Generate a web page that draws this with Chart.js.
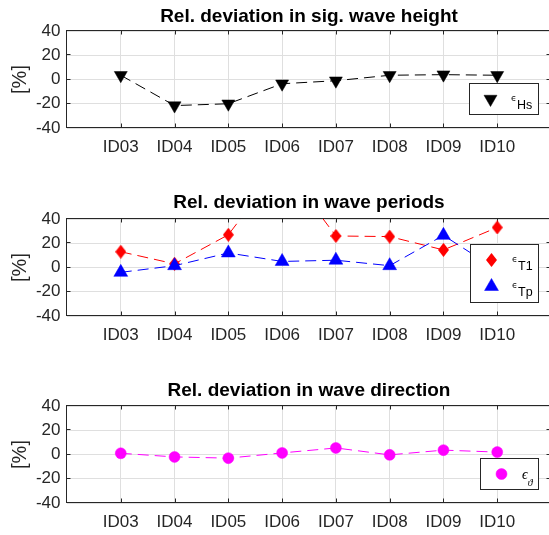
<!DOCTYPE html>
<html>
<head>
<meta charset="utf-8">
<script src="https://cdn.jsdelivr.net/npm/chart.js@4.4.0/dist/chart.umd.min.js"></script>
<style>
  html, body { margin: 0; padding: 0; background: #fff; }
  body { width: 549px; height: 535px; overflow: hidden; position: relative; }
  canvas { position: absolute; left: 0; }
</style>
</head>
<body>
<canvas id="hs" width="560" height="175" style="top:0px"></canvas>
<canvas id="per" width="560" height="190" style="top:175px"></canvas>
<canvas id="dir" width="560" height="170" style="top:365px"></canvas>
<script>
// data
const categories = ['ID03', 'ID04', 'ID05', 'ID06', 'ID07', 'ID08', 'ID09', 'ID10'];
const hsDev = [3.5, -21.5, -20, -3.5, -1, 3.5, 4, 3.5];
const t1Dev = [13, 3, 27, 85, 26, 25.5, 14.5, 33];
const tpDev = [-4, 1.5, 12, 5, 6, 1.5, 26.5, -2];
const dirDev = [1, -2, -3, 1.3, 5.4, -0.3, 3.6, 2];
const yTicks = [-40, -20, 0, 20, 40];

const AXIS = '#262626';
const GRID = '#dfdfdf';
const SANS = '"Liberation Sans", Arial, Helvetica, sans-serif';
const DASH = [11, 6];

function pts(values) {
	return values.map((v, i) => ({ x: i + 1, y: v }));
}

// matlab style diamond marker (taller than wide)
function diamond(w, h, color) {
	const c = document.createElement('canvas');
	c.width = w;
	c.height = h;
	const g = c.getContext('2d');
	g.fillStyle = color;
	g.beginPath();
	g.moveTo(w / 2, 0);
	g.lineTo(w, h / 2);
	g.lineTo(w / 2, h);
	g.lineTo(0, h / 2);
	g.closePath();
	g.fill();
	return c;
}

// box + inward ticks, drawn like matlab axes
const matlabBox = {
	id: 'matlabBox',
	beforeDatasetsDraw(chart) {
		const { ctx, chartArea: a, scales } = chart;
		const L = a.left - 0.5, R = a.right - 0.5, T = a.top - 0.5, B = a.bottom - 0.5;
		ctx.save();
		ctx.strokeStyle = AXIS;
		ctx.lineWidth = 1;
		ctx.strokeRect(L, T, R - L, B - T);
		ctx.beginPath();
		for (const t of scales.x.ticks) {
			const px = Math.round(scales.x.getPixelForValue(t.value)) + 0.5;
			ctx.moveTo(px, B); ctx.lineTo(px, B - 4);
			ctx.moveTo(px, T); ctx.lineTo(px, T + 4);
		}
		for (const t of scales.y.ticks) {
			const py = Math.round(scales.y.getPixelForValue(t.value)) - 0.5;
			ctx.moveTo(L, py); ctx.lineTo(L + 4, py);
			ctx.moveTo(R, py); ctx.lineTo(R - 4, py);
		}
		ctx.stroke();
		ctx.restore();
	}
};

const legendBox = {
	id: 'legendBox',
	afterDatasetsDraw(chart, args, o) {
		const { ctx, chartArea: a } = chart;
		const sets = chart.data.datasets;
		ctx.save();
		let textW = 0;
		for (const ds of sets) {
			ctx.font = o.mainFont;
			const w1 = ctx.measureText(o.mainText).width;
			ctx.font = o.subFont;
			const w2 = ctx.measureText(ds.legendSub).width;
			textW = Math.max(textW, w1 + o.gap + w2);
		}
		const w = Math.round(41.5 + textW + 6);
		const h = Math.round(4.5 + 26.5 * sets.length);
		const x0 = Math.round(a.right - 13.5 - w) + 0.5;
		const y0 = Math.round(a.bottom - 14.5 - h) + 0.5;
		ctx.fillStyle = '#fff';
		ctx.fillRect(x0, y0, w, h);
		ctx.strokeStyle = AXIS;
		ctx.lineWidth = 1;
		ctx.strokeRect(x0, y0, w, h);
		sets.forEach((ds, i) => {
			const my = y0 + 15.5 + 26.5 * i;
			const mx = x0 + 21;
			ctx.fillStyle = ds.pointBackgroundColor;
			ctx.strokeStyle = ds.pointBorderColor;
			ctx.lineWidth = ds.pointBorderWidth;
			Chart.helpers.drawPoint(ctx, {
				pointStyle: ds.pointStyle,
				radius: ds.pointRadius,
				rotation: ds.pointRotation || 0,
				borderWidth: ds.pointBorderWidth
			}, mx, my);
			const tx = x0 + 41.5;
			ctx.fillStyle = '#000';
			ctx.textAlign = 'left';
			ctx.textBaseline = 'alphabetic';
			ctx.font = o.mainFont;
			ctx.fillText(o.mainText, tx, my + o.mainDy);
			const w1 = ctx.measureText(o.mainText).width;
			ctx.font = o.subFont;
			ctx.fillText(ds.legendSub, tx + w1 + o.gap, my + o.subDy);
		});
		ctx.restore();
	}
};

function makeChart(id, title, titlePad, datasets, legendOpts) {
	return new Chart(document.getElementById(id), {
		type: 'line',
		data: { datasets },
		plugins: [matlabBox, legendBox],
		options: {
			responsive: false,
			animation: false,
			events: [],
			layout: { padding: { left: 0, right: 9, top: 0, bottom: 0 } },
			plugins: {
				legend: { display: false },
				tooltip: { enabled: false },
				title: {
					display: true,
					text: title,
					fullSize: false,
					color: '#000',
					font: { family: SANS, size: 19, weight: 'bold' },
					padding: { top: titlePad.top, bottom: titlePad.bottom }
				},
				legendBox: legendOpts
			},
			scales: {
				x: {
					type: 'linear',
					min: 0,
					max: categories.length + 1,
					afterBuildTicks: (s) => { s.ticks = categories.map((c, i) => ({ value: i + 1 })); },
					afterFit: (s) => { s.height = titlePad.xh; },
					grid: { color: GRID, drawTicks: false },
					border: { display: false },
					ticks: {
						autoSkip: false,
						maxRotation: 0,
						padding: 9,
						color: AXIS,
						font: { family: SANS, size: 17 },
						callback: (v) => categories[v - 1] || ''
					}
				},
				y: {
					min: -40,
					max: 40,
					afterBuildTicks: (s) => { s.ticks = yTicks.map(v => ({ value: v })); },
					afterFit: (s) => { s.width = 67; },
					grid: { color: GRID, drawTicks: false },
					border: { display: false },
					title: {
						display: true,
						text: '[%]',
						color: AXIS,
						font: { family: SANS, size: 20 },
						padding: { top: 8, bottom: 0 }
					},
					ticks: {
						padding: 6.5,
						color: AXIS,
						font: { family: SANS, size: 17 }
					}
				}
			}
		}
	});
}

function series(values, color, style, extra) {
	return Object.assign({
		data: pts(values),
		borderColor: color,
		borderWidth: 1,
		borderDash: DASH,
		tension: 0,
		pointStyle: style,
		pointBackgroundColor: color,
		pointBorderColor: color,
		pointBorderWidth: 0.5
	}, extra);
}

const texLegend = {
	mainText: '\u03F5',
	mainFont: '9px "DejaVu Sans"',
	mainDy: 1.5,
	subFont: '12.5px ' + SANS,
	subDy: 9.7,
	gap: 0.5
};

makeChart('hs', 'Rel. deviation in sig. wave height',
	{ top: 5, bottom: 3.2, xh: 47 },
	[series(hsDev, '#000000', 'triangle', { legendSub: 'Hs', pointRadius: 7.5, pointRotation: 180 })],
	texLegend);

makeChart('per', 'Rel. deviation in wave periods',
	{ top: 16.5, bottom: 4.7, xh: 49 },
	[
		series(t1Dev, '#ff0000', diamond(11, 14, '#ff0000'), { legendSub: 'T1', pointRadius: 7, order: 1 }),
		series(tpDev, '#0000ff', 'triangle', { legendSub: 'Tp', pointRadius: 8, order: 0 })
	],
	texLegend);

makeChart('dir', 'Rel. deviation in wave direction',
	{ top: 14.8, bottom: 3.4, xh: 32 },
	[series(dirDev, '#ff00ff', 'circle', { legendSub: '\u03D1', pointRadius: 5.5 })],
	{
		mainText: '\u03F5',
		mainFont: 'italic 14px "Liberation Serif", "DejaVu Serif", serif',
		mainDy: 5,
		subFont: 'italic 10px "Liberation Serif", "DejaVu Serif", serif',
		subDy: 12,
		gap: 0
	});
</script>
</body>
</html>
